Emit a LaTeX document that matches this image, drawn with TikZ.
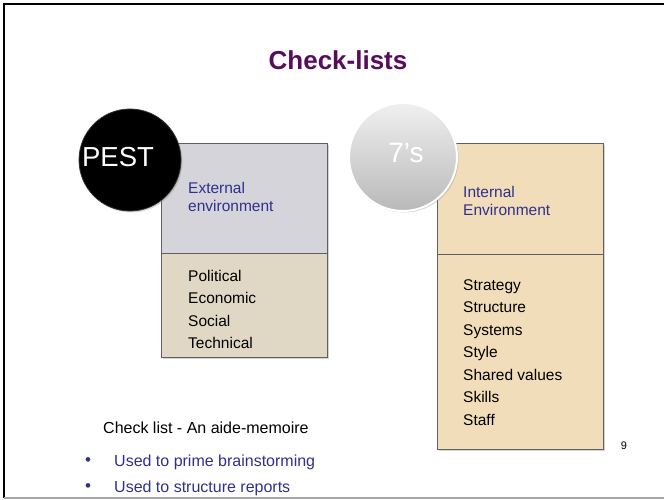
\documentclass[tikz,border=0pt]{standalone}
\usepackage{fontspec}
\setmainfont{Liberation Sans}
\usetikzlibrary{shadows}
\definecolor{titlepurple}{RGB}{90,12,92}
\definecolor{textblue}{RGB}{48,48,140}
\definecolor{pestgray}{RGB}{212,212,218}
\definecolor{pesttan}{RGB}{224,216,196}
\definecolor{sevtan}{RGB}{241,221,186}
\begin{document}
\begin{tikzpicture}[x=1pt,y=-1pt,
	panel/.style={draw=gray!75!black,line width=0.8pt,anchor=north west,inner sep=0pt,
		minimum width=166pt,drop shadow={opacity=0.35,shadow xshift=1.2pt,shadow yshift=-1.5pt}},
	listtext/.style={anchor=north west,align=left,inner sep=0pt,font=\fontsize{15.5}{22.5}\selectfont},
	headtext/.style={anchor=west,align=left,inner sep=0pt,text=textblue,font=\fontsize{15.5}{18}\selectfont},
	bullettext/.style={anchor=west,inner sep=0pt,text=textblue,font=\fontsize{16}{19}\selectfont}]
		\useasboundingbox (0,0) rectangle (664,500);
		\draw[line width=1.3pt] (664,4)--(4,4)--(4,498);
		\draw[line width=1.3pt,color=gray!70] (4,498)--(664,498);
		
		\node[text=titlepurple,font=\fontsize{26}{30}\selectfont\bfseries] (title) at (338,60) {Check-lists};
		
		% PEST
		\node[panel,fill=pestgray,minimum height=110pt] (pesthead) at (161,143) {};
		\node[panel,fill=pesttan,minimum height=104pt] (pestlist) at (161,253) {};
		\node[headtext] (pestlabel) at (188,197) {External\\environment};
		\node[listtext] (pestitems) at (188,270) {Political\\Economic\\Social\\Technical};
		\node[circle,minimum size=102pt,fill=black,draw=gray!40!black,line width=0.8pt,
			drop shadow={opacity=0.3,shadow xshift=1.5pt,shadow yshift=-1.5pt}] (pest) at (130,160) {};
		\node[text=white,font=\fontsize{27.5}{30}\selectfont] (pestname) at (118,157) {PEST};
		
		% 7's
		\node[panel,fill=sevtan,minimum height=111pt] (sevhead) at (437,143) {};
		\node[panel,fill=sevtan,minimum height=195pt] (sevlist) at (437,254) {};
		\node[headtext] (sevlabel) at (463,201) {Internal\\Environment};
		\node[listtext] (sevitems) at (463,279) {Strategy\\Structure\\Systems\\Style\\Shared values\\Skills\\Staff};
		\node[circle,minimum size=108pt,top color=gray!12,bottom color=gray!55,draw=white,line width=2pt,
			drop shadow={opacity=0.35,shadow xshift=1.5pt,shadow yshift=-1.5pt}] (sevens) at (403,157) {};
		\node[text=white,font=\fontsize{28}{30}\selectfont] (sevname) at (406,153) {7’s};
		
		% notes
		\node[anchor=west,inner sep=0pt,font=\fontsize{16}{19}\selectfont] (aide) at (103,428) {Check list - An aide-memoire};
		\node[text=textblue,font=\fontsize{17}{19}\selectfont] (bulletA) at (88,462) {•};
		\node[bullettext] (prime) at (114,462) {Used to prime brainstorming};
		\node[text=textblue,font=\fontsize{17}{19}\selectfont] (bulletB) at (88,488) {•};
		\node[bullettext] (reports) at (114,488) {Used to structure reports};
		\node[font=\fontsize{11}{13}\selectfont] (pagenum) at (624,446) {9};
		
		\end{tikzpicture}
\end{document}
